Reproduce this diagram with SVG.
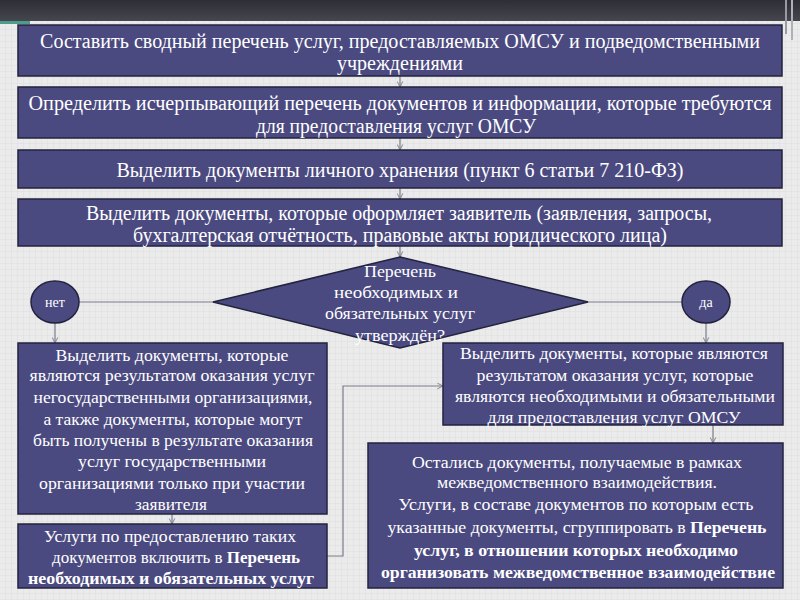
<svg xmlns="http://www.w3.org/2000/svg" width="800" height="600" viewBox="0 0 800 600">
<defs>
<pattern id="grid" width="6" height="6" patternUnits="userSpaceOnUse">
<rect width="6" height="6" fill="#ebebeb"/>
<path d="M6 0V6M0 6H6" stroke="#dedede" stroke-width="1"/>
</pattern>
<marker id="arr" viewBox="0 0 10 10" refX="9" refY="5" markerWidth="7" markerHeight="7" orient="auto" markerUnits="userSpaceOnUse">
<path d="M1 1L9 5L1 9" fill="none" stroke="#7c7c8c" stroke-width="1.3"/>
</marker>
<linearGradient id="band" x1="0" y1="0" x2="0" y2="1">
<stop offset="0" stop-color="#2e2e36"/>
<stop offset="1" stop-color="#46464f"/>
</linearGradient>
</defs>
<style>
.box{fill:#4b4a80;stroke:#23233f;stroke-width:1.5}
.t{font-family:"Liberation Serif","DejaVu Serif","Times New Roman",serif;fill:#ffffff;text-anchor:middle}
.big{font-size:20.5px}
.mid{font-size:16px}
.b{font-weight:bold}
.c{fill:none;stroke:#7c7c8c;stroke-width:1.2}
</style>
<rect width="800" height="600" fill="url(#grid)"/>
<rect width="800" height="21" fill="url(#band)"/>
<rect x="0" y="21" width="30" height="3" fill="#4e9c8c"/>
<rect x="785" y="0" width="2" height="34" fill="#9a9aa2"/>
<rect x="791" y="0" width="2" height="40" fill="#b0b0b8"/>

<g id="connectors">
<line class="c" x1="400" y1="76" x2="400" y2="87" marker-end="url(#arr)"/>
<line class="c" x1="400" y1="138" x2="400" y2="150" marker-end="url(#arr)"/>
<line class="c" x1="400" y1="188" x2="400" y2="199" marker-end="url(#arr)"/>
<line class="c" x1="400" y1="246" x2="400" y2="257" marker-end="url(#arr)"/>
<line class="c" x1="79" y1="302" x2="213" y2="302"/>
<line class="c" x1="588" y1="302" x2="682" y2="302"/>
<line class="c" x1="55" y1="323" x2="55" y2="343" marker-end="url(#arr)"/>
<line class="c" x1="706" y1="323" x2="706" y2="343" marker-end="url(#arr)"/>
<line class="c" x1="172" y1="514" x2="172" y2="524" marker-end="url(#arr)"/>
<line class="c" x1="713" y1="425" x2="713" y2="443" marker-end="url(#arr)"/>
<polyline class="c" points="327,556 343,556 343,386 443,386" marker-end="url(#arr)"/>
</g>

<g id="n1">
<rect class="box" x="18" y="25" width="764" height="51"/>
<text class="t big" x="400" y="48" textLength="720" lengthAdjust="spacingAndGlyphs">Составить сводный перечень услуг, предоставляемых ОМСУ и подведомственными</text>
<text class="t big" x="400" y="70" textLength="126" lengthAdjust="spacingAndGlyphs">учреждениями</text>
</g>
<g id="n2">
<rect class="box" x="18" y="87" width="764" height="51"/>
<text class="t big" x="400" y="110" textLength="743" lengthAdjust="spacingAndGlyphs">Определить исчерпывающий перечень документов  и информации, которые требуются</text>
<text class="t big" x="396" y="133" textLength="280" lengthAdjust="spacingAndGlyphs">для предоставления услуг ОМСУ</text>
</g>
<g id="n3">
<rect class="box" x="18" y="150" width="764" height="38"/>
<text class="t big" x="400" y="177" textLength="567" lengthAdjust="spacingAndGlyphs">Выделить документы личного хранения (пункт 6 статьи 7 210-ФЗ)</text>
</g>
<g id="n4">
<rect class="box" x="18" y="199" width="764" height="47"/>
<text class="t big" x="399" y="220" textLength="626" lengthAdjust="spacingAndGlyphs">Выделить документы, которые оформляет заявитель (заявления, запросы,</text>
<text class="t big" x="400" y="242" textLength="534" lengthAdjust="spacingAndGlyphs">бухгалтерская отчётность, правовые акты юридического лица)</text>
</g>
<g id="decision">
<polygon class="box" points="400,257 588,302 400,348 213,302"/>
<text class="t mid" x="400" y="277" textLength="72" lengthAdjust="spacingAndGlyphs">Перечень</text>
<text class="t mid" x="396" y="298" textLength="124" lengthAdjust="spacingAndGlyphs">необходимых и</text>
<text class="t mid" x="400" y="319" textLength="150" lengthAdjust="spacingAndGlyphs">обязательных  услуг</text>
<text class="t mid" x="400" y="341" textLength="90" lengthAdjust="spacingAndGlyphs">утверждён?</text>
</g>
<g id="no">
<ellipse class="box" cx="55" cy="302" rx="24" ry="21"/>
<text class="t" x="55" y="307" font-size="14">нет</text>
</g>
<g id="yes">
<ellipse class="box" cx="706" cy="302" rx="24" ry="21"/>
<text class="t" x="706" y="307" font-size="14">да</text>
</g>
<g id="left1">
<rect class="box" x="18" y="343" width="309" height="171"/>
<text class="t mid" x="172" y="361" textLength="233" lengthAdjust="spacingAndGlyphs">Выделить документы, которые</text>
<text class="t mid" x="172" y="381" textLength="285" lengthAdjust="spacingAndGlyphs">являются результатом оказания  услуг</text>
<text class="t mid" x="173" y="403" textLength="279" lengthAdjust="spacingAndGlyphs">негосударственными  организациями,</text>
<text class="t mid" x="173" y="425" textLength="259" lengthAdjust="spacingAndGlyphs">а также документы, которые могут</text>
<text class="t mid" x="173" y="446" textLength="280" lengthAdjust="spacingAndGlyphs">быть получены в результате оказания</text>
<text class="t mid" x="172" y="467" textLength="188" lengthAdjust="spacingAndGlyphs">услуг государственными</text>
<text class="t mid" x="172" y="489" textLength="266" lengthAdjust="spacingAndGlyphs">организациями  только при участии</text>
<text class="t mid" x="171" y="510" textLength="72" lengthAdjust="spacingAndGlyphs">заявителя</text>
</g>
<g id="left2">
<rect class="box" x="18" y="524" width="309" height="64"/>
<text class="t mid" x="170" y="542" textLength="252" lengthAdjust="spacingAndGlyphs">Услуги по предоставлению таких</text>
<text class="t mid" x="176" y="563" textLength="248" lengthAdjust="spacingAndGlyphs">документов включить в <tspan class="b">Перечень</tspan></text>
<text class="t mid b" x="171" y="584" textLength="286" lengthAdjust="spacingAndGlyphs">необходимых и обязательных  услуг</text>
</g>
<g id="right1">
<rect class="box" x="443" y="343" width="340" height="82"/>
<text class="t mid" x="614" y="359" textLength="308" lengthAdjust="spacingAndGlyphs">Выделить документы, которые являются</text>
<text class="t mid" x="615" y="381" textLength="277" lengthAdjust="spacingAndGlyphs">результатом оказания  услуг, которые</text>
<text class="t mid" x="615" y="402" textLength="320" lengthAdjust="spacingAndGlyphs">являются необходимыми и обязательными</text>
<text class="t mid" x="614" y="423" textLength="253" lengthAdjust="spacingAndGlyphs">для предоставления  услуг ОМСУ</text>
</g>
<g id="right2">
<rect class="box" x="368" y="443" width="415" height="145"/>
<text class="t mid" x="577" y="468" textLength="330" lengthAdjust="spacingAndGlyphs">Остались документы, получаемые в рамках</text>
<text class="t mid" x="577" y="488" textLength="280" lengthAdjust="spacingAndGlyphs">межведомственного  взаимодействия.</text>
<text class="t mid" x="576" y="510" textLength="355" lengthAdjust="spacingAndGlyphs">Услуги, в составе документов по которым есть</text>
<text class="t mid" x="577" y="533" textLength="379" lengthAdjust="spacingAndGlyphs">указанные документы, сгруппировать в <tspan class="b">Перечень</tspan></text>
<text class="t mid b" x="576" y="556" textLength="324" lengthAdjust="spacingAndGlyphs">услуг, в отношении которых необходимо</text>
<text class="t mid b" x="578" y="578" textLength="394" lengthAdjust="spacingAndGlyphs">организовать межведомственное  взаимодействие</text>
</g>
</svg>
